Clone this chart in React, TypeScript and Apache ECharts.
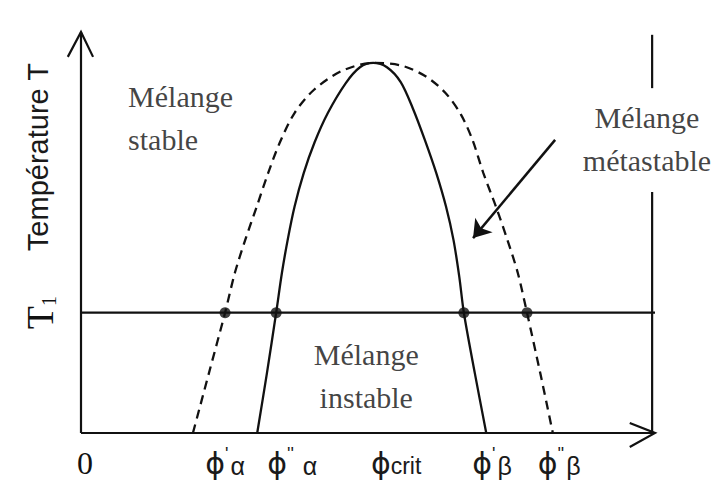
import React, { useEffect, useRef } from "react";
import * as echarts from "echarts";

// Composition (x, 0..100) / temperature (y, 0..100) in diagram units
const binodal: [number, number][] = [
  [19.5, 0], [22.3, 15.0], [25.1, 30.0], [26.8, 39.9], [28.6, 48.1], [30.6, 56.4],
  [32.6, 64.8], [34.6, 72.3], [37.2, 79.8], [40.6, 85.6], [45.3, 90.2], [50.9, 92.3],
  [55.9, 91.6], [60.1, 88.9], [63.5, 84.8], [66.2, 79.4], [68.2, 73.1], [70.1, 64.8],
  [72.3, 56.4], [74.3, 48.1], [76.1, 39.9], [77.7, 30.0], [80.0, 15.0], [82.2, 0],
];
const spinodal: [number, number][] = [
  [30.7, 0], [32.4, 15.0], [34.0, 30.0], [35.0, 39.9], [36.0, 48.1], [37.2, 56.4],
  [38.8, 64.8], [40.7, 72.5], [43.0, 79.8], [46.1, 87.2], [48.6, 91.2], [50.9, 92.3],
  [53.3, 91.2], [55.7, 87.5], [57.8, 81.0], [59.9, 73.1], [61.9, 64.8], [63.6, 56.4],
  [64.9, 48.1], [65.9, 39.0], [66.7, 30.0], [68.6, 15.0], [70.6, 0],
];
const T1 = 30;
const intersections: [number, number][] = [[25.1, T1], [34.0, T1], [66.7, T1], [77.7, T1]];

// Frame lines (open arrows, axes, T1 isotherm, right border)
const frameLines: [number, number][][] = [
  [[0, 0], [0, 100]],
  [[-2.3, 93.8], [0, 100], [2.1, 93.8]],
  [[0, 0], [100, 0]],
  [[95.6, 2.5], [100, 0], [95.6, -3.5]],
  [[0, 30], [100, 30]],
  [[99.5, 0], [99.5, 60.1]],
  [[99.5, 86.0], [99.5, 99.3]],
];
const metaArrow: [number, number][] = [[82.6, 73.1], [68.3, 48.6]];

// Tick labels
const xTickValues = [0, 25.1, 36.8, 54.9, 71.6, 83.3];
const xTickLabels = [
  "{zero|0}",
  "{phi|ϕ}{sup|'}{sub|α}",
  "{phi|ϕ}{sup|''}{sub| α}",
  "{phi|ϕ}{crit|crit}",
  "{phi|ϕ}{sup|'}{sub|β}",
  "{phi|ϕ}{sup|''}{sub|β}",
];
const yTickValues = [30, 68.8];
const yTickLabels = ["{t|T}{s|1}", "{n|Température T}"];

// Region annotations
const regionNames = ["Mélange\nstable", "Mélange\nmétastable", "Mélange\ninstable"];
const regionAnchors: [number, number][] = [[8.2, 78.6], [98.6, 73.3], [49.7, 14.2]];
const regionAlign = ["left", "center", "center"];

const INK = "#111";

export default function App() {
  const ref = useRef<HTMLDivElement>(null);
  useEffect(() => {
    const chart = echarts.init(ref.current!, null, { renderer: "svg" });
    const option: any = {
      animation: false,
      backgroundColor: "#fff",
      grid: { left: 81, right: 66, top: 32, bottom: 56 },
      xAxis: {
        type: "value",
        min: 0,
        max: 100,
        axisLine: { show: false },
        axisTick: { show: false },
        splitLine: { show: false },
        axisLabel: {
          customValues: xTickValues,
          margin: 8,
          formatter: (v: number) => xTickLabels[xTickValues.indexOf(v)] ?? "",
          rich: {
            zero: { fontFamily: "Liberation Serif", fontSize: 32, color: INK, lineHeight: 44, padding: [0, 0, 0, 8] },
            phi: { fontFamily: "DejaVu Sans", fontSize: 30, color: "#1a1a1a", lineHeight: 44 },
            sup: { fontFamily: "Liberation Sans", fontSize: 18, color: "#1a1a1a", verticalAlign: "top", padding: [4, 0, 0, 0] },
            sub: { fontFamily: "Liberation Sans", fontSize: 25, color: "#1a1a1a", padding: [6, 0, 0, 2] },
            crit: { fontFamily: "Liberation Sans", fontSize: 23, color: "#1a1a1a", padding: [6, 0, 0, 0] },
          },
        },
      },
      yAxis: {
        type: "value",
        min: 0,
        max: 100,
        axisLine: { show: false },
        axisTick: { show: false },
        splitLine: { show: false },
        axisLabel: {
          customValues: yTickValues,
          rotate: 90,
          margin: 22,
          formatter: (v: number) => yTickLabels[yTickValues.indexOf(v)] ?? "",
          rich: {
            t: { fontFamily: "Liberation Serif", fontSize: 38, color: INK },
            s: { fontFamily: "Liberation Serif", fontSize: 20, color: INK, verticalAlign: "bottom" },
            n: { fontFamily: "Liberation Sans", fontSize: 29, color: "#1a1a1a", padding: [0, 0, 7, 0] },
          },
        },
      },
      series: [
        {
          type: "lines",
          coordinateSystem: "cartesian2d",
          polyline: true,
          clip: false,
          silent: true,
          lineStyle: { color: INK, width: 2.2, opacity: 1 },
          data: frameLines.map((coords) => ({ coords })),
        },
        {
          type: "line",
          data: binodal,
          symbol: "none",
          clip: false,
          silent: true,
          smooth: 0.3,
          lineStyle: { color: INK, width: 2.3, type: [9, 6] },
        },
        {
          type: "line",
          data: spinodal,
          symbol: "none",
          clip: false,
          silent: true,
          smooth: 0.3,
          lineStyle: { color: INK, width: 2.3 },
        },
        {
          type: "lines",
          coordinateSystem: "cartesian2d",
          clip: false,
          silent: true,
          symbol: ["none", "arrow"],
          symbolSize: 17,
          lineStyle: { color: INK, width: 2.5, opacity: 1 },
          data: [{ coords: metaArrow }],
        },
        {
          type: "scatter",
          data: intersections,
          symbolSize: 11,
          itemStyle: { color: INK },
          silent: true,
          z: 5,
        },
        {
          type: "scatter",
          silent: true,
          symbolSize: 0,
          data: regionNames.map((name, i) => ({
            name,
            value: regionAnchors[i],
            label: {
              show: true,
              position: "inside",
              formatter: name,
              align: regionAlign[i],
              verticalAlign: "middle",
              fontFamily: "Liberation Serif",
              fontSize: 30,
              lineHeight: 43,
              color: INK,
            },
          })),
        },
      ],
    };
    chart.setOption(option);
    return () => chart.dispose();
  }, []);
  return (
    <div
      ref={ref}
      style={{ position: "fixed", left: 0, top: 0, width: 721, height: 489, background: "#fff" }}
    />
  );
}
